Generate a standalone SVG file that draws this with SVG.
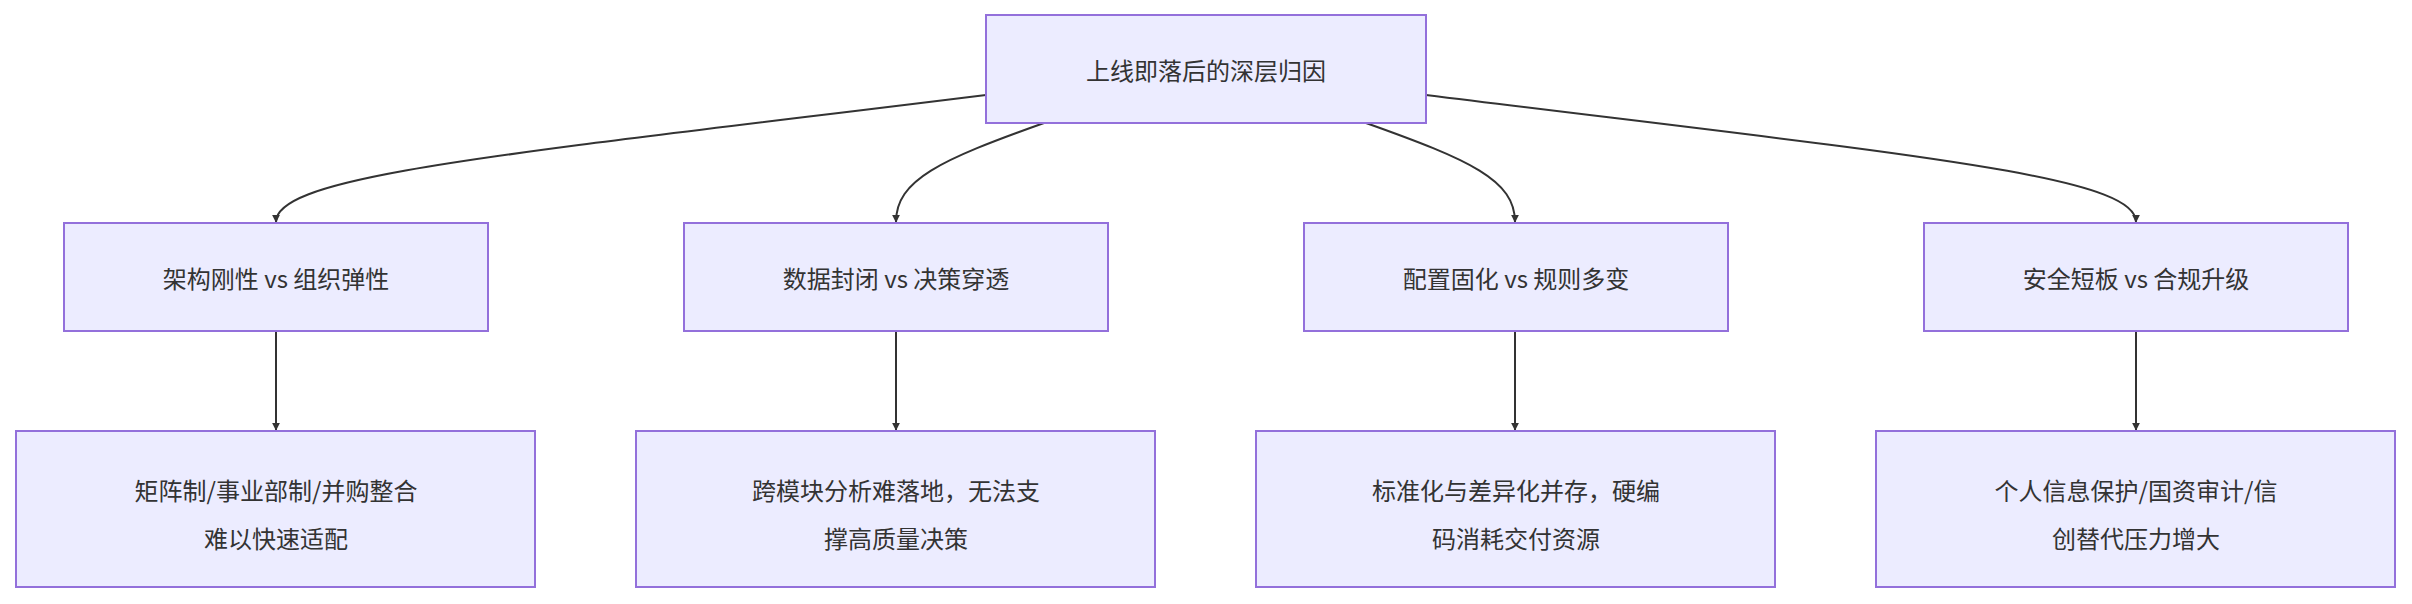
<svg xmlns="http://www.w3.org/2000/svg" width="2412" height="604" viewBox="0 0 2412 604">
<style>
.n rect{fill:#ECECFF;stroke:#9370DB;stroke-width:2}
text{font-family:"Noto Sans CJK SC","Noto Sans",sans-serif;font-size:24px;fill:#333;text-anchor:middle;dominant-baseline:central}
.e path{fill:none;stroke:#333;stroke-width:2}
</style>
<defs><marker id="a" viewBox="0 0 10 10" refX="9" refY="5" markerWidth="8" markerHeight="8" markerUnits="userSpaceOnUse" orient="auto"><path d="M0,0L10,5L0,10z" fill="#333"/></marker></defs>
<rect width="2412" height="604" fill="#fff"/>
<g class="e">
<path d="M986,95 C500,155 276,175 276,222" marker-end="url(#a)"/>
<path d="M1044,123 C940,160 896,180 896,222" marker-end="url(#a)"/>
<path d="M1366,123 C1470,160 1515,180 1515,222" marker-end="url(#a)"/>
<path d="M1426,95 C1910,155 2136,175 2136,222" marker-end="url(#a)"/>
<path d="M276,331V430" marker-end="url(#a)"/>
<path d="M896,331V430" marker-end="url(#a)"/>
<path d="M1515,331V430" marker-end="url(#a)"/>
<path d="M2136,331V430" marker-end="url(#a)"/>
</g>
<g id="root" class="n"><rect x="986" y="15" width="440" height="108"/><text x="1206" y="69">上线即落后的深层归因</text></g>
<g id="a1" class="n"><rect x="64" y="223" width="424" height="108"/><text x="276" y="277">架构刚性 vs 组织弹性</text></g>
<g id="a2" class="n"><rect x="684" y="223" width="424" height="108"/><text x="896" y="277">数据封闭 vs 决策穿透</text></g>
<g id="a3" class="n"><rect x="1304" y="223" width="424" height="108"/><text x="1516" y="277">配置固化 vs 规则多变</text></g>
<g id="a4" class="n"><rect x="1924" y="223" width="424" height="108"/><text x="2136" y="277">安全短板 vs 合规升级</text></g>
<g id="b1" class="n"><rect x="16" y="431" width="519" height="156"/><text x="276" y="489">矩阵制/事业部制/并购整合</text><text x="276" y="537">难以快速适配</text></g>
<g id="b2" class="n"><rect x="636" y="431" width="519" height="156"/><text x="896" y="489">跨模块分析难落地，无法支</text><text x="896" y="537">撑高质量决策</text></g>
<g id="b3" class="n"><rect x="1256" y="431" width="519" height="156"/><text x="1516" y="489">标准化与差异化并存，硬编</text><text x="1516" y="537">码消耗交付资源</text></g>
<g id="b4" class="n"><rect x="1876" y="431" width="519" height="156"/><text x="2136" y="489">个人信息保护/国资审计/信</text><text x="2136" y="537">创替代压力增大</text></g>
</svg>
